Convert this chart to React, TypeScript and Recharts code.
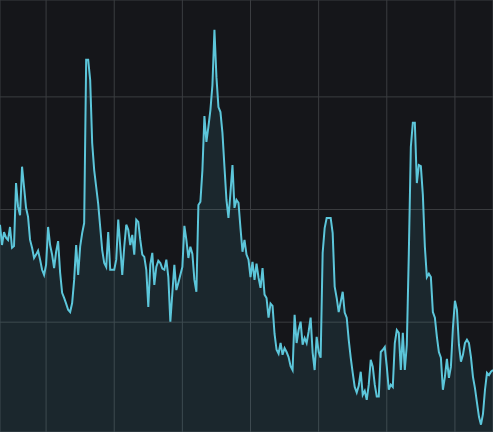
import { Area, AreaChart, CartesianGrid, XAxis, YAxis } from "recharts"

// one reading every step, left to right
const readings = [
  37.3, 33.7, 36.0, 35.0, 34.6, 36.9, 33.2, 33.5, 44.7, 40.5,
  39.0, 47.6, 44.0, 40.3, 38.7, 34.6, 33.2, 31.4, 32.0, 32.7,
  31.1, 29.3, 28.4, 30.2, 36.9, 33.7, 32.0, 29.6, 32.5, 34.4,
  28.8, 25.2, 24.3, 23.3, 22.2, 21.8, 23.4, 27.5, 33.7, 28.4,
  33.4, 35.8, 37.6, 66.6, 66.6, 63.0, 51.8, 47.0, 44.0, 41.0,
  36.9, 32.8, 30.5, 29.8, 36.0, 29.3, 29.3, 29.3, 31.1, 38.2,
  33.4, 28.4, 33.4, 37.3, 36.4, 33.7, 35.5, 32.0, 38.2, 37.8,
  34.6, 32.0, 31.6, 29.3, 22.7, 30.2, 32.3, 26.6, 29.8, 30.9,
  30.5, 29.5, 29.3, 31.1, 28.0, 20.1, 25.2, 30.2, 25.7, 27.0,
  28.4, 29.8, 37.1, 34.6, 31.4, 33.4, 32.1, 27.5, 25.4, 40.8,
  41.4, 47.0, 56.6, 52.0, 54.7, 57.7, 62.1, 71.9, 63.5, 58.2,
  57.3, 53.6, 47.6, 41.7, 38.5, 43.0, 47.9, 40.3, 41.7, 41.2,
  36.7, 32.5, 34.6, 32.0, 31.1, 28.0, 30.7, 27.5, 30.4, 27.9,
  26.1, 29.6, 24.9, 24.3, 20.8, 23.3, 22.9, 17.9, 15.1, 14.4,
  16.3, 14.2, 15.4, 14.7, 13.8, 12.2, 11.5, 21.3, 16.3, 18.6,
  20.1, 16.0, 17.2, 16.3, 18.3, 20.8, 14.6, 11.5, 17.4, 14.7,
  13.7, 32.3, 36.7, 38.5, 38.5, 38.5, 35.8, 26.3, 24.3, 21.8,
  23.6, 25.4, 21.7, 20.8, 16.9, 13.7, 11.0, 8.5, 7.5, 8.7,
  11.2, 7.1, 7.8, 6.2, 8.9, 13.3, 12.1, 8.9, 6.8, 6.8,
  14.7, 15.1, 15.6, 12.1, 8.0, 8.9, 8.5, 16.3, 18.6, 18.1,
  11.5, 18.1, 11.5, 16.0, 32.3, 51.1, 55.4, 55.4, 44.7, 47.9,
  47.7, 42.6, 33.4, 28.0, 28.6, 28.0, 21.8, 20.8, 17.4, 14.7,
  13.7, 8.0, 10.3, 13.5, 10.1, 12.1, 19.0, 23.8, 22.2, 16.0,
  13.0, 14.2, 16.3, 16.9, 16.3, 13.8, 10.3, 8.3, 5.7, 3.2,
  1.8, 3.7, 8.0, 11.0, 10.6, 11.2, 11.5,
]

const xTicks = [23, 57, 91, 125, 159, 193, 227]
const yTicks = [20, 40, 60]

const data = readings.map((value, i) => ({ step: i, value }))

export default function App() {
  return (
    <div style={{ position: "absolute", left: 0, top: 0, background: "#15161a" }}>
      <AreaChart width={493} height={432} data={data} margin={{ top: 0, right: 0, left: 0, bottom: 0 }}>
        <CartesianGrid stroke="#3b3d41" strokeWidth={1} />
        <XAxis
          hide
          type="number"
          dataKey="step"
          domain={[0, readings.length - 1]}
          ticks={xTicks}
        />
        <YAxis hide type="number" domain={[0.5, 77.2]} ticks={yTicks} allowDataOverflow />
        <Area
          type="linear"
          dataKey="value"
          stroke="#5cc6da"
          strokeWidth={2}
          fill="#5cc6da"
          fillOpacity={0.1}
          dot={false}
          activeDot={false}
          isAnimationActive={false}
        />
      </AreaChart>
    </div>
  )
}
